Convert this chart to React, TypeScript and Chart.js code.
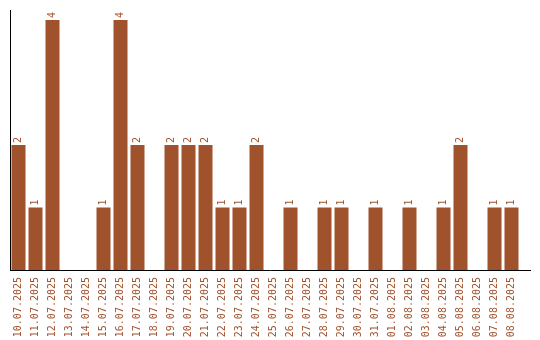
import React, { useEffect, useRef } from "react";
import { Chart, registerables } from "chart.js";

Chart.register(...registerables);

const categories = [
  "10.07.2025", "11.07.2025", "12.07.2025", "13.07.2025", "14.07.2025",
  "15.07.2025", "16.07.2025", "17.07.2025", "18.07.2025", "19.07.2025",
  "20.07.2025", "21.07.2025", "22.07.2025", "23.07.2025", "24.07.2025",
  "25.07.2025", "26.07.2025", "27.07.2025", "28.07.2025", "29.07.2025",
  "30.07.2025", "31.07.2025", "01.08.2025", "02.08.2025", "03.08.2025",
  "04.08.2025", "05.08.2025", "06.08.2025", "07.08.2025", "08.08.2025",
];

const counts = [
  2, 1, 4, 0, 0,
  1, 4, 2, 0, 2,
  2, 2, 1, 1, 2,
  0, 1, 0, 1, 1,
  0, 1, 0, 1, 0,
  1, 2, 0, 1, 1,
];

const BAR_COLOR = "#A0522D";
const FONT_FAMILY = "'DejaVu Sans Mono', 'Liberation Mono', monospace";

const valueLabels = {
  id: "valueLabels",
  afterDatasetsDraw(chart: any) {
    const ctx = chart.ctx;
    const meta = chart.getDatasetMeta(0);
    const data = chart.data.datasets[0].data as number[];
    ctx.save();
    ctx.fillStyle = BAR_COLOR;
    ctx.font = `10px ${FONT_FAMILY}`;
    ctx.textAlign = "left";
    ctx.textBaseline = "middle";
    meta.data.forEach((bar: any, i: number) => {
      const v = data[i];
      if (!v) return;
      ctx.save();
      ctx.translate(bar.x, bar.y - 2);
      ctx.rotate(-Math.PI / 2);
      ctx.fillText(String(v), 0, 0);
      ctx.restore();
    });
    ctx.restore();
  },
};

const baseline = {
  id: "baseline",
  afterDraw(chart: any) {
    const { ctx, chartArea } = chart;
    const y = Math.round(chart.scales.y.getPixelForValue(0)) + 0.5;
    ctx.save();
    ctx.strokeStyle = "#000";
    ctx.lineWidth = 1;
    ctx.beginPath();
    ctx.moveTo(chartArea.left, y);
    ctx.lineTo(chartArea.right + 11, y);
    ctx.stroke();
    ctx.restore();
  },
};

export default function App() {
  const ref = useRef<HTMLCanvasElement | null>(null);
  useEffect(() => {
    if (!ref.current) return;
    const chart = new Chart(ref.current, {
      type: "bar",
      data: {
        labels: categories,
        datasets: [
          {
            data: counts,
            backgroundColor: BAR_COLOR,
            borderWidth: 0,
            barPercentage: 14 / 17,
            categoryPercentage: 1,
          },
        ],
      },
      plugins: [valueLabels, baseline],
      options: {
        animation: false,
        responsive: false,
        layout: { padding: { left: 10, top: 10, right: 20, bottom: 0 } },
        plugins: {
          legend: { display: false },
          tooltip: { enabled: false },
        },
        scales: {
          x: {
            offset: true,
            grid: { display: false, drawTicks: false },
            border: { display: false },
            ticks: {
              autoSkip: false,
              maxRotation: 90,
              minRotation: 90,
              padding: 7,
              color: BAR_COLOR,
              font: { family: FONT_FAMILY, size: 10 },
            },
            afterFit(scale: any) {
              scale.height = 70;
            },
          },
          y: {
            min: 0,
            max: 4.16,
            grid: { display: false, drawTicks: false },
            border: { display: true, color: "#000", width: 1 },
            ticks: { display: false },
            afterFit(scale: any) {
              scale.width = 0;
            },
          },
        },
      },
    });
    return () => chart.destroy();
  }, []);
  return (
    <div style={{ position: "fixed", left: 0, top: 0, width: 540, height: 340, background: "#fff" }}>
      <canvas ref={ref} width={540} height={340} />
    </div>
  );
}
